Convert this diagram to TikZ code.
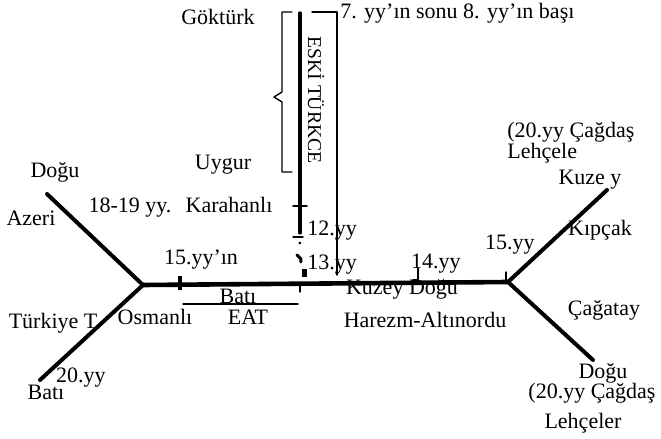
\documentclass[tikz,border=0pt]{standalone}
\usepackage{fontspec}
\setmainfont{Liberation Serif}
\tikzset{
	branch/.style={line width=2pt},
	thinline/.style={line width=0.7pt},
	lbl/.style={inner sep=0pt}
}
\begin{document}
\begin{tikzpicture}[x=0.5pt, y=-0.5pt, font=\fontsize{11}{13}\selectfont, line join=round, line cap=round]
	\useasboundingbox (0,0) rectangle (661,439);
	% ana dallar
	\coordinate (W) at (143,285);
	\coordinate (E) at (508,282);
	\coordinate (azeriEnd) at (47,194);
	\coordinate (batiEnd) at (40,380);
	\coordinate (kuzeyEnd) at (607,190);
	\coordinate (doguEnd) at (593,360);
	\draw[branch] (azeriEnd) -- (W) -- (batiEnd);
	\draw[line width=2.3pt] (W) -- (E);
	\draw[branch] (kuzeyEnd) -- (E) -- (doguEnd);
	% eski türkçe
	\draw[line width=1.6pt] (300,13) -- (300,233);
	\draw[thinline] (312,12) -- (337,12) -- (337,275);
	\draw[thinline] (292,12) -- (282,12) -- (282,92) -- (274,97) -- (282,102) -- (282,172) -- (292,172);
	\draw[thinline] (293,206) -- (307,206) (293,237) -- (303,237) (300,286) -- (300,292);
	\fill (300,243) circle (1.5);
	\draw[line width=1.5pt] (297,255) -- (301,259) -- (301,262);
	\fill (302,269) rectangle (307,277);
	\draw[line width=2pt, line cap=butt] (180,276) -- (180,290);
	\draw[thinline] (183,304) -- (298,304);
	\draw[thinline] (413,280) -- (418,280) -- (418,268) (506,272) -- (506,282);
	% yazılar
	\node[lbl] (gokturk) at (218,17) {Göktürk};
	\node[lbl, anchor=west] (yy7) at (340,13) {7. yy'ın sonu 8. yy'ın başı};
	\node[lbl, rotate=-90, font=\fontsize{9.8}{12}\selectfont] (eski) at (316,100) {ESKİ TÜRKCE};
	\node[lbl] (uygur) at (223,165) {Uygur};
	\node[lbl] (karahanli) at (229,205) {Karahanlı};
	\node[lbl] (yy1819) at (130,208) {18-19 yy.};
	\node[lbl] (doguL) at (55,172) {Doğu};
	\node[lbl] (azeri) at (31,218) {Azeri};
	\node[lbl] (yy15in) at (201,260) {15.yy'ın};
	\node[lbl] (batiU) at (238,296) {Batı};
	\node[lbl] (eat) at (248,317) {EAT};
	\node[lbl] (osmanli) at (155,317) {Osmanlı};
	\node[lbl] (turkiye) at (55,323) {Türkiye T.};
	\node[lbl] (yy20) at (81,378) {20.yy};
	\node[lbl] (batiL) at (46,392) {Batı};
	\node[lbl, anchor=west] (yy12) at (307,231) {12.yy};
	\node[lbl, anchor=west] (yy13) at (307,265) {13.yy};
	\node[lbl] (yy14) at (436,264) {14.yy};
	\node[lbl] (kuzeydogu) at (402,289) {Kuzey Doğu};
	\node[lbl] (harezm) at (425,320) {Harezm-Altınordu};
	\node[lbl] (yy15) at (510,245) {15.yy};
	\node[lbl, anchor=west] (cagdasU) at (507,132) {(20.yy Çağdaş};
	\node[lbl, anchor=west] (lehceleU) at (507,153) {Lehçele};
	\node[lbl] (kuzey) at (590,180) {Kuze y};
	\node[lbl] (kipcak) at (600,230) {Kıpçak};
	\node[lbl] (cagatay) at (604,310) {Çağatay};
	\node[lbl] (doguR) at (603,373) {Doğu};
	\node[lbl] (cagdasR) at (592,393) {(20.yy Çağdaş};
	\node[lbl] (lehceler) at (583,423) {Lehçeler};
\end{tikzpicture}
\end{document}
